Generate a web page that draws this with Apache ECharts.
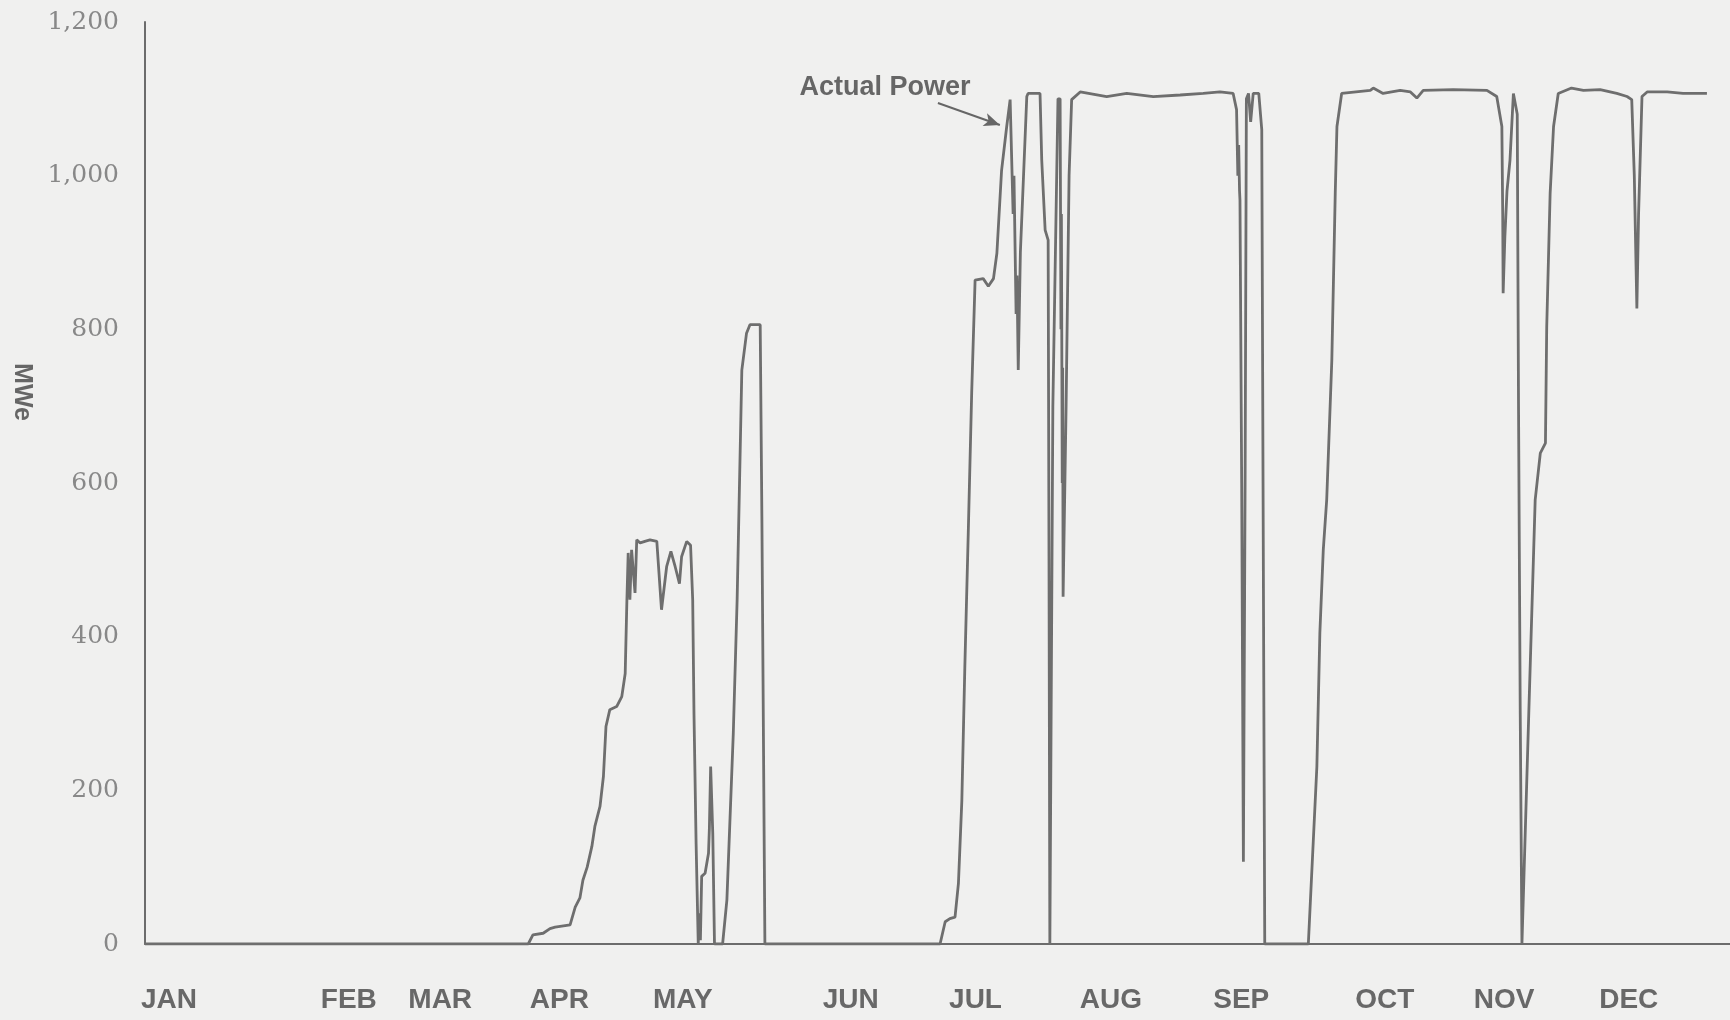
<!DOCTYPE html>
<html>
<head>
<meta charset="utf-8">
<script src="https://cdn.jsdelivr.net/npm/echarts@6/dist/echarts.min.js"></script>
<style>
html,body{margin:0;padding:0;background:#f0f0ef;}
#chart{width:1730px;height:1020px;}
</style>
</head>
<body>
<div id="chart"></div>
<script>
// Day of year (x) and net electrical output in MWe (y)
const dayOfYear = [
  0, 89.7, 90.8, 93.2, 94.8, 96.0, 99.5, 100.7, 101.8, 102.5, 103.5, 104.6, 105.3, 106.5, 107.3, 107.9,
  108.8, 110.4, 111.6, 112.4, 112.8, 113.1, 113.5, 113.9, 114.7, 115.1, 115.9, 117.0, 118.2, 119.8,
  120.9, 122.1, 123.1, 124.1, 125.1, 125.6, 126.8, 127.7, 128.2, 128.5, 129.0, 129.5,
  129.7, 130.0, 130.3, 131.1, 131.9, 132.1, 132.4, 132.9, 133.3,
  135.2, 136.2, 137.7, 138.6, 139.7, 140.8, 141.6, 144.0, 144.4, 145.1,
  186.1, 187.3, 188.4, 189.6, 190.4, 191.2, 191.9, 192.7, 193.5, 194.3, 196.2, 197.4, 198.6, 199.4,
  200.5, 201.7, 202.5, 203.2, 203.4, 203.9, 204.1, 204.4, 204.9, 206.4, 206.7, 209.5, 209.9, 210.7,
  211.4, 211.6, 211.8, 212.1, 212.5, 213.7, 214.2, 214.4, 214.5, 214.7, 214.8, 214.9,
  215.6, 216.3, 216.9, 218.9, 225.1, 229.8, 236.0, 242.3, 247.7, 251.6, 254.7,
  255.5, 255.8, 256.0, 256.2, 256.3, 256.7, 257.1, 257.5, 257.8, 258.3, 258.8, 259.4, 260.7, 261.4, 261.7, 262.1,
  272.3, 274.3, 275.0, 275.8, 276.6, 277.8, 278.6, 279.0, 280.1,
  286.8, 287.5, 289.8, 293.8, 296.2, 297.7, 299.2, 306.2, 314.1, 316.4,
  317.6, 317.8, 317.9, 318.3, 318.8, 319.5, 320.3, 320.7, 321.2, 321.5, 321.9, 322.3,
  322.6, 323.9, 325.4, 326.6, 327.8, 328.1, 328.9, 329.7, 330.8, 333.9,
  336.7, 340.6, 344.5, 346.9, 348.0, 348.6, 349.2, 349.6, 350.4, 351.6, 356.3, 360.0, 365.6
];
const powerMWe = [
  0, 0, 12, 14, 20, 22, 25, 48, 60, 83, 100, 127, 153, 179, 218, 283,
  305, 309, 322, 352, 448, 509, 448, 513, 457, 526, 522, 524, 526, 524,
  435, 491, 511, 491, 469, 504, 524, 519, 448, 300, 130, 0,
  40, 5, 88, 92, 118, 150, 231, 144, 0,
  0, 57, 274, 448, 747, 795, 806, 806, 552, 0,
  0, 29, 33, 35, 79, 187, 361, 535, 717, 864, 866, 856, 866, 899,
  1007, 1064, 1099, 950, 1000, 820, 870, 747, 900, 1103, 1107, 1107, 1020, 929,
  916, 500, 0, 300, 700, 1100, 1100, 800, 950, 600, 750, 452,
  700, 1000, 1099, 1109, 1103, 1107, 1103, 1105, 1107, 1109, 1107,
  1086, 1000, 1040, 980, 968, 600, 107, 600, 1100, 1107, 1070, 1107, 1107, 1060, 600, 0,
  0, 231, 405, 513, 578, 760, 977, 1064, 1107,
  1111, 1114, 1107, 1111, 1109, 1101, 1111, 1112, 1111, 1103,
  1064, 950, 847, 920, 980, 1020, 1107, 1109, 1080, 700, 300, 0,
  0, 300, 578, 639, 652, 803, 977, 1064, 1107, 1114,
  1111, 1112, 1107, 1103, 1099, 1000, 827, 950, 1103, 1109, 1109, 1107, 1107
];
// Month tick labels and their positions (day-of-year as placed on the original axis)
const monthLabels = ['JAN','FEB','MAR','APR','MAY','JUN','JUL','AUG','SEP','OCT','NOV','DEC'];
const monthLabelPos = [5.6, 47.7, 69.1, 97.0, 125.9, 165.2, 194.4, 226.1, 256.6, 290.2, 318.1, 347.3];
const yTicks = [0, 200, 400, 600, 800, 1000, 1200];
const annotationText = 'Actual Power';
const arrowFrom = [185.6, 1094.6];
const arrowTo = [200.1, 1066];

const seriesData = dayOfYear.map((d, i) => [d, powerMWe[i]]);

const chart = echarts.init(document.getElementById('chart'), null, {renderer: 'canvas'});
const option = {
  backgroundColor: '#f0f0ef',
  animation: false,
  grid: {left: 145, right: 0, top: 22, bottom: 76, containLabel: false},
  xAxis: {
    type: 'value', min: 0, max: 371,
    splitLine: {show: false},
    axisTick: {show: false},
    axisLine: {show: true, lineStyle: {color: '#6c6c6c', width: 2}},
    axisLabel: {
      customValues: monthLabelPos,
      formatter: function (v) {
        const i = monthLabelPos.indexOf(v);
        return i >= 0 ? monthLabels[i] : '';
      },
      margin: 42,
      color: '#686868',
      fontFamily: '"Liberation Sans", Arial, sans-serif',
      fontWeight: 'bold',
      fontSize: 28
    }
  },
  yAxis: {
    type: 'value', min: 0, max: 1200, interval: 200,
    splitLine: {show: false},
    axisTick: {show: false},
    axisLine: {show: true, lineStyle: {color: '#6c6c6c', width: 2}},
    axisLabel: {
      customValues: yTicks,
      formatter: function (v) { return v.toLocaleString('en-US'); },
      margin: 26,
      color: '#888888',
      fontFamily: '"DejaVu Serif", serif',
      fontSize: 25
    }
  },
  graphic: [
    {
      type: 'text', x: 22, y: 392, rotation: -Math.PI / 2,
      style: {
        text: 'MWe', align: 'center', verticalAlign: 'middle',
        fill: '#666666', font: 'bold 25px "Liberation Sans", Arial, sans-serif'
      }
    },
    {
      type: 'text', x: 885, y: 88,
      style: {
        text: annotationText, align: 'center', verticalAlign: 'middle',
        fill: '#666666', font: 'bold 27px "Liberation Sans", Arial, sans-serif'
      }
    }
  ],
  series: [{
    type: 'line',
    data: seriesData,
    showSymbol: false,
    symbol: 'none',
    lineStyle: {color: '#6e6e6e', width: 2.8},
    markLine: {
      silent: true,
      symbol: ['none', 'arrow'],
      symbolSize: [10, 16],
      label: {show: false},
      lineStyle: {color: '#666666', width: 2, type: 'solid'},
      data: [[{coord: arrowFrom}, {coord: arrowTo}]]
    }
  }]
};
chart.setOption(option);
</script>
</body>
</html>
